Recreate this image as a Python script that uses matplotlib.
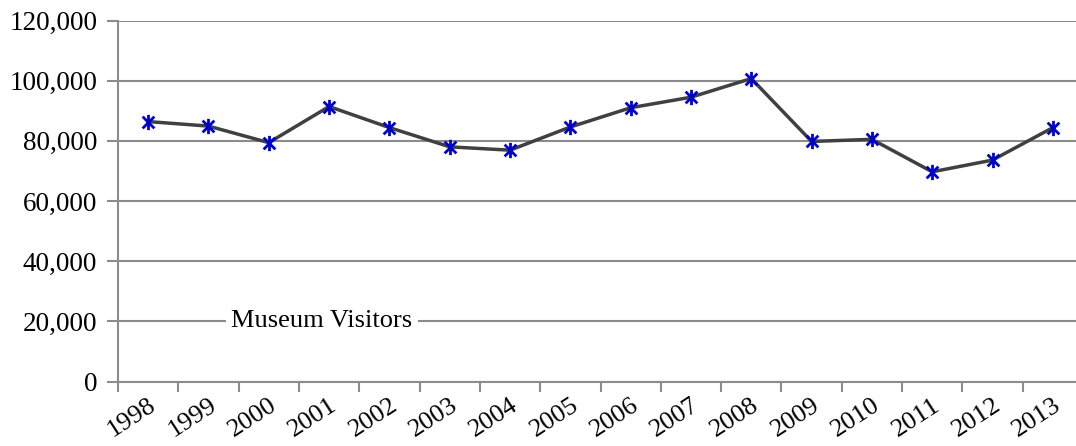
import numpy as np
import matplotlib.pyplot as plt
from matplotlib.path import Path
from matplotlib.ticker import FuncFormatter, MultipleLocator

years = [str(y) for y in range(1998, 2014)]
visitors = [86400, 84900, 79400, 91400, 84400, 78000, 76900, 84600,
            91000, 94500, 100700, 79800, 80500, 69700, 73600, 84400]
series_name = "Museum Visitors"

plt.rcParams["font.family"] = ["Liberation Serif", "DejaVu Serif"]

# asterisk marker: X with a vertical stroke
star = Path(
    [(-1, -1), (1, 1), (-1, 1), (1, -1), (0, -1.3), (0, 1.3)],
    [Path.MOVETO, Path.LINETO, Path.MOVETO, Path.LINETO, Path.MOVETO, Path.LINETO],
)

fig = plt.figure(figsize=(10.76, 4.46), dpi=100)
ax = fig.add_axes([118 / 1076, (446 - 381.5) / 446, (1083 - 118) / 1076, 361 / 446])

x = np.arange(len(years))
ax.plot(x, visitors, color="#404040", lw=2.5, zorder=3)
ax.plot(x, visitors, ls="none", marker=star, ms=11, mew=2.0,
        mec="#0000cc", mfc="none", zorder=4)

ax.set_xlim(-0.5, len(years) - 0.5)
ax.set_ylim(0, 120000)
ax.yaxis.set_major_locator(MultipleLocator(20000))
ax.yaxis.set_major_formatter(FuncFormatter(lambda v, p: f"{int(v):,}"))
ax.grid(True, axis="y", color="#8c8c8c", lw=1.5)
ax.set_axisbelow(True)

for s in ["top", "right"]:
    ax.spines[s].set_visible(False)
for s in ["left", "bottom"]:
    ax.spines[s].set_color("#8c8c8c")
    ax.spines[s].set_linewidth(1.5)

# category boundaries as ticks, labels at centres
ax.set_xticks(np.arange(len(years) + 1) - 0.5)
ax.set_xticklabels([])
ax.set_xticks(x, minor=True)
ax.set_xticklabels(years, minor=True, rotation=33, ha="right",
                   rotation_mode="anchor", fontsize=19)
ax.tick_params(axis="x", which="major", length=7, width=1.5, color="#8c8c8c")
ax.tick_params(axis="x", which="minor", length=0, pad=9)
ax.tick_params(axis="y", length=8, width=1.5, color="#8c8c8c", labelsize=19.5, pad=7)
for lbl in ax.get_xticklabels(minor=True):
    lbl.set_va("top")

ax.text(1.38, 20000, series_name, fontsize=19, va="center", ha="left",
        bbox=dict(facecolor="white", edgecolor="none", pad=4), zorder=5)

fig.savefig("out.png", dpi=100)
